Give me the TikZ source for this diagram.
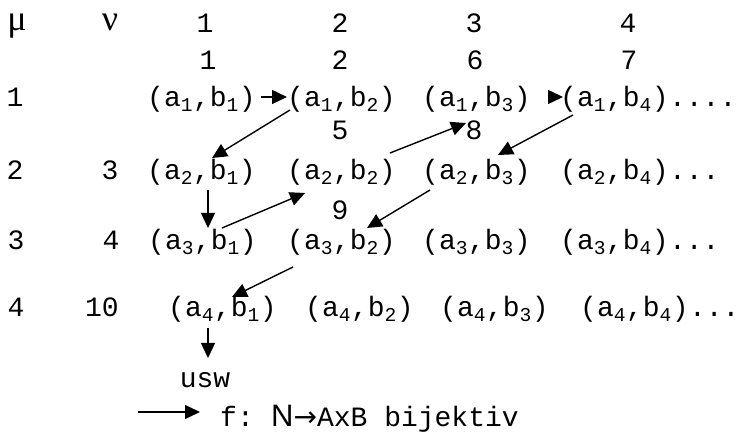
\documentclass[tikz,border=0pt]{standalone}
\usepackage{fontspec}
\setmainfont{Liberation Mono}
\newfontfamily\greekfont{Liberation Serif}
\newfontfamily\arialfont{Liberation Sans}
\newfontfamily\pfeilfont{DejaVu Sans}
\usetikzlibrary{arrows.meta}
\newcommand\pr[2]{(a\textsubscript{#1},b\textsubscript{#2})}

\begin{document}
\begin{tikzpicture}[x=1pt,y=-1pt,
every node/.append style={font=\fontsize{28}{32}\selectfont,inner sep=0pt},
pair/.append style={anchor=base west},
num/.append style={anchor=base},
greek/.append style={anchor=base,font=\fontsize{36}{40}\selectfont\greekfont}
]

\tikzstyle{pfeil} = [-{Triangle[length=15pt,width=14pt]},line width=1.4pt]

\useasboundingbox (0,0) rectangle (744,435);

  % Kopfzeilen
  \node (mu)   [greek] at (17,31)  {μ};
  \node (nu)   [greek] at (110,31) {ν};
  \node (k1)   [num] at (205,33) {1};
  \node (k2)   [num] at (340,33) {2};
  \node (k3)   [num] at (474,33) {3};
  \node (k4)   [num] at (628,33) {4};
  \node (n1)   [num] at (208,70) {1};
  \node (n2)   [num] at (340,70) {2};
  \node (n6)   [num] at (475,70) {6};
  \node (n7)   [num] at (629,70) {7};

  % Zeilennummern
  \node (z1)   [num] at (15,107) {1};
  \node (z2)   [num] at (15,180) {2};
  \node (z3)   [num] at (16,250) {3};
  \node (z4)   [num] at (16,317) {4};
  \node (m3)   [num] at (110,180) {3};
  \node (m4)   [num] at (111,250) {4};
  \node (m10)  [num] at (102,317) {10};
  \node (n5)   [num] at (340,140) {5};
  \node (n8)   [num] at (474,140) {8};
  \node (n9)   [num] at (340,220) {9};

  % Paare
  \node (p11)  [pair] at (147,107) {\pr11};
  \node (p12)  [pair] at (287,107) {\pr12};
  \node (p13)  [pair] at (422,107) {\pr13};
  \node (p14)  [pair] at (560,107) {\pr14};
  \node (d1)   [pair] at (p14.base east) {....};
  \node (p21)  [pair] at (147,180) {\pr21};
  \node (p22)  [pair] at (287,180) {\pr22};
  \node (p23)  [pair] at (422,180) {\pr23};
  \node (p24)  [pair] at (560,180) {\pr24};
  \node (d2)   [pair] at (p24.base east) {...};
  \node (p31)  [pair] at (148,250) {\pr31};
  \node (p32)  [pair] at (287,250) {\pr32};
  \node (p33)  [pair] at (422,250) {\pr33};
  \node (p34)  [pair] at (560,250) {\pr34};
  \node (d3)   [pair] at (p34.base east) {...};
  \node (p41)  [pair] at (168,317) {\pr41};
  \node (p42)  [pair] at (305,317) {\pr42};
  \node (p43)  [pair] at (440,317) {\pr43};
  \node (p44)  [pair] at (580,317) {\pr44};
  \node (d4)   [pair] at (p44.base east) {...};

  \node (usw)  [num] at (205,388) {usw};
  \node (fdef) [pair] at (220,426) {f:\kern-5pt{} {\arialfont\fontsize{31}{34}\selectfont N}{\pfeilfont →}AxB bijektiv};
  \coordinate (leg) at (138,412);

\draw[pfeil] ([shift={(114,-10)}]p11.base west) -- ([shift={(0,-10)}]p12.base west);
\draw[pfeil] ([shift={(3,3)}]p12.base west) -- ([shift={(65,-22)}]p21.base west);
\draw[pfeil] ([shift={(61,10)}]p21.base west) -- ([shift={(60,-22)}]p31.base west);
\draw[pfeil] ([shift={(74,-22)}]p31.base west) -- ([shift={(18,13)}]p22.base west);
\draw[pfeil] ([shift={(103,-27)}]p22.base west) -- ([shift={(44,16)}]p13.base west);
\draw[pfeil] ([shift={(126,-10)}]p13.base west) -- ([shift={(3,-10)}]p14.base west);
\draw[pfeil] ([shift={(13,8)}]p14.base west) -- ([shift={(76,-25)}]p23.base west);
\draw[pfeil] ([shift={(8,10)}]p23.base west) -- ([shift={(80,-22)}]p32.base west);
\draw[pfeil] ([shift={(6,17)}]p32.base west) -- ([shift={(64,-20)}]p41.base west);
\draw[pfeil] ([shift={(40,11)}]p41.base west) -- ([shift={(3,-30)}]usw.base);

\draw[pfeil] (leg) -- ([shift={(-20,-14)}]fdef.base west);

\end{tikzpicture}
\end{document}
